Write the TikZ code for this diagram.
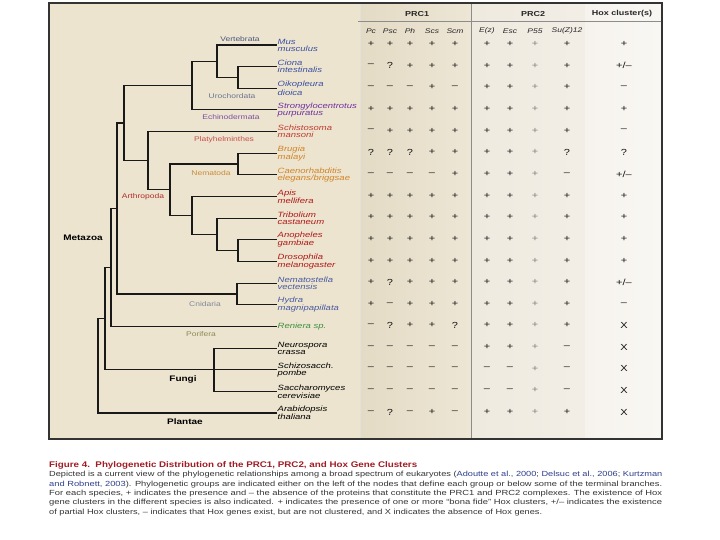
\documentclass[tikz,border=0pt]{standalone}
\usepackage{fontspec}
\setmainfont{Liberation Sans}[FakeStretch=1.25]
\usepackage{graphicx}
\definecolor{panelbg}{HTML}{ECE4CF}
\definecolor{prcA}{HTML}{E4DBC5}
\definecolor{prcB}{HTML}{EDE6D5}
\definecolor{prcC}{HTML}{EFEADF}
\definecolor{prcD}{HTML}{F2EEE6}
\definecolor{hoxA}{HTML}{F6F3EE}
\definecolor{hoxB}{HTML}{F9F7F3}
\definecolor{spblue}{HTML}{3C4FA0}
\definecolor{sppurple}{HTML}{7030A0}
\definecolor{spredb}{HTML}{C03A30}
\definecolor{sporange}{HTML}{D08428}
\definecolor{spred}{HTML}{B01818}
\definecolor{spslate}{HTML}{4A5AA0}
\definecolor{spgreen}{HTML}{3F8F3F}
\definecolor{gVert}{HTML}{4D5680}
\definecolor{gUro}{HTML}{6C7490}
\definecolor{gEch}{HTML}{7A4EA0}
\definecolor{gPla}{HTML}{C8504A}
\definecolor{gNem}{HTML}{C98A3A}
\definecolor{gArt}{HTML}{B02A2A}
\definecolor{gCni}{HTML}{808898}
\definecolor{gPor}{HTML}{8A8A55}
\definecolor{titlered}{HTML}{A01C24}
\definecolor{capgray}{HTML}{333333}
\definecolor{citeblue}{HTML}{2E3E8C}
\newcommand\tabrow[3]{%
  \foreach \v [count=\colidx] in {#3} {%
    \pgfmathsetmacro\xx{{371,390,410,432,455,487,510,535,567,624}[\colidx-1]}%
    \ifnum\colidx=8 \def\vc{black!50}\else\def\vc{black!92}\fi
    \node[val, text=\vc] (t#1c\colidx) at (\xx,#2) {\v};
  }}
\begin{document}
\begin{tikzpicture}[x=1pt,y=-1pt,
  branch/.style={line width=1.2pt, black!90},
  spname/.style={anchor=west, align=left, inner sep=0.5pt, font=\fontsize{7.6}{7}\selectfont\itshape},
  grp/.style={inner sep=0pt, font=\fontsize{6.8}{7}\selectfont},
  big/.style={inner sep=0pt, font=\fontsize{8}{8}\selectfont\bfseries},
  hd/.style={inner sep=0pt, font=\fontsize{7.2}{7}\selectfont\bfseries, text=black!85},
  subhd/.style={inner sep=0pt, font=\fontsize{6.8}{7}\selectfont\itshape, text=black!85},
  val/.style={inner sep=0pt, font=\fontsize{8.8}{9}\selectfont},
  captxt/.style={anchor=base west, inner sep=0pt, text=capgray, font=\fontsize{7.4}{9}\selectfont},
]
\useasboundingbox (0,0) rectangle (720,540);
\fill[white] (0,0) rectangle (720,540);
% panel
\fill[panelbg] (49,3) rectangle (662,439);
\shade[left color=prcA, right color=prcB] (360,3) rectangle (471,439);
\shade[left color=prcC, right color=prcD] (471,3) rectangle (585,439);
\shade[left color=hoxA, right color=hoxB] (585,3) rectangle (662,439);
\draw[black!12, line width=0.6pt] (360,3) -- (360,439);
\draw[black!45, line width=0.8pt] (471,3) -- (471,439);
\draw[black!45, line width=0.6pt] (358,21) -- (662,21);
\draw[black!80, line width=1.3pt] (49,3) rectangle (662,439);

% headers
\node[hd] (hPRC1) at (417,14) {PRC1};
\node[hd] (hPRC2) at (533,14) {PRC2};
\node[hd] (hHox) at (622,14) {Hox cluster(s)};
\node[subhd] (cPc) at (371,31) {Pc};
\node[subhd] (cPsc) at (390,31) {Psc};
\node[subhd] (cPh) at (410,31) {Ph};
\node[subhd] (cScs) at (432,31) {Scs};
\node[subhd] (cScm) at (455,31) {Scm};
\node[subhd] (cEz) at (487,31) {E(z)};
\node[subhd] (cEsc) at (510,31) {Esc};
\node[subhd] (cP55) at (535,31) {P55};
\node[subhd] (cSuz) at (567,31) {Su(Z)12};

% species
\node[spname, text=spblue] (s1) at (277,45) {Mus\\musculus};
\node[spname, text=spblue] (s2) at (277,66.6) {Ciona\\intestinalis};
\node[spname, text=spblue] (s3) at (277,88.3) {Oikopleura\\dioica};
\node[spname, text=sppurple] (s4) at (277,109.9) {Strongylocentrotus\\purpuratus};
\node[spname, text=spredb] (s5) at (277,131.6) {Schistosoma\\mansoni};
\node[spname, text=sporange] (s6) at (277,153.2) {Brugia\\malayi};
\node[spname, text=sporange] (s7) at (277,174.9) {Caenorhabditis\\elegans/briggsae};
\node[spname, text=spred] (s8) at (277,196.5) {Apis\\mellifera};
\node[spname, text=spred] (s9) at (277,218.2) {Tribolium\\castaneum};
\node[spname, text=spred] (s10) at (277,239.8) {Anopheles\\gambiae};
\node[spname, text=spred] (s11) at (277,261.5) {Drosophila\\melanogaster};
\node[spname, text=spslate] (s12) at (277,283.1) {Nematostella\\vectensis};
\node[spname, text=spslate] (s13) at (277,304.8) {Hydra\\magnipapillata};
\node[spname, text=spgreen] (s14) at (277,326.4) {Reniera sp.};
\node[spname, text=black] (s15) at (277,348.1) {Neurospora\\crassa};
\node[spname, text=black] (s16) at (277,369.7) {Schizosacch.\\pombe};
\node[spname, text=black] (s17) at (277,391.4) {Saccharomyces\\cerevisiae};
\node[spname, text=black] (s18) at (277,413) {Arabidopsis\\thaliana};

% internal nodes
\coordinate (nUro) at (238,77.45);
\coordinate (nVert) at (217,61.2);
\coordinate (nDeut) at (192,85.55);
\coordinate (nNem) at (238,164.05);
\coordinate (nA3) at (238,250.65);
\coordinate (nA2) at (217,234.4);
\coordinate (nArth) at (192,215.45);
\coordinate (nEcd) at (170,189.75);
\coordinate (nProt) at (148,160.7);
\coordinate (nBil) at (124,123.1);
\coordinate (nCnid) at (237,293.95);
\coordinate (nX) at (117,208.5);
\coordinate (nEum) at (111,267.45);
\coordinate (nFun) at (214,369.7);
\coordinate (nOpi) at (105,318.6);
\coordinate (nRoot) at (98,365.8);

% branches
\draw[branch] (nRoot) |- (nOpi);
\draw[branch] (nRoot) |- (s18.west);
\draw[branch] (nOpi) |- (nEum);
\draw[branch] (nOpi) |- (s16.west);
\draw[branch] (nFun) |- (s15.west);
\draw[branch] (nFun) |- (s17.west);
\draw[branch] (nEum) |- (nX);
\draw[branch] (nEum) |- (s14.west);
\draw[branch] (nX) |- (nBil);
\draw[branch] (nX) |- (nCnid);
\draw[branch] (nCnid) |- (s12.west);
\draw[branch] (nCnid) |- (s13.west);
\draw[branch] (nBil) |- (nDeut);
\draw[branch] (nBil) |- (nProt);
\draw[branch] (nDeut) |- (nVert);
\draw[branch] (nDeut) |- (s4.west);
\draw[branch] (nVert) |- (s1.west);
\draw[branch] (nVert) |- (nUro);
\draw[branch] (nUro) |- (s2.west);
\draw[branch] (nUro) |- (s3.west);
\draw[branch] (nProt) |- (s5.west);
\draw[branch] (nProt) |- (nEcd);
\draw[branch] (nEcd) |- (nNem);
\draw[branch] (nEcd) |- (nArth);
\draw[branch] (nNem) |- (s6.west);
\draw[branch] (nNem) |- (s7.west);
\draw[branch] (nArth) |- (s8.west);
\draw[branch] (nArth) |- (nA2);
\draw[branch] (nA2) |- (s9.west);
\draw[branch] (nA2) |- (nA3);
\draw[branch] (nA3) |- (s10.west);
\draw[branch] (nA3) |- (s11.west);

% group labels
\node[grp, text=gVert] (gVertebrata) at (240,39) {Vertebrata};
\node[grp, text=gUro] (gUrochordata) at (232,96) {Urochordata};
\node[grp, text=gEch] (gEchino) at (231,117) {Echinodermata};
\node[grp, text=gPla] (gPlaty) at (224,140) {Platyhelminthes};
\node[grp, text=gNem] (gNema) at (211,173) {Nematoda};
\node[grp, text=gArt] (gArthro) at (143,197) {Arthropoda};
\node[grp, text=gCni] (gCnidaria) at (205,304) {Cnidaria};
\node[grp, text=gPor] (gPorifera) at (201,334) {Porifera};
\node[big] (gMetazoa) at (83,238) {Metazoa};
\node[big] (gFungi) at (183,379) {Fungi};
\node[big] (gPlantae) at (185,422) {Plantae};

% table
\tabrow{1}{44}{+,+,+,+,+,+,+,+,+,+}
\tabrow{2}{65.6}{–,?,+,+,+,+,+,+,+,+/–}
\tabrow{3}{87.3}{–,–,–,+,–,+,+,+,+,–}
\tabrow{4}{108.9}{+,+,+,+,+,+,+,+,+,+}
\tabrow{5}{130.6}{–,+,+,+,+,+,+,+,+,–}
\tabrow{6}{152.2}{?,?,?,+,+,+,+,+,?,?}
\tabrow{7}{173.9}{–,–,–,–,+,+,+,+,–,+/–}
\tabrow{8}{195.5}{+,+,+,+,+,+,+,+,+,+}
\tabrow{9}{217.2}{+,+,+,+,+,+,+,+,+,+}
\tabrow{10}{238.8}{+,+,+,+,+,+,+,+,+,+}
\tabrow{11}{260.5}{+,+,+,+,+,+,+,+,+,+}
\tabrow{12}{282.1}{+,?,+,+,+,+,+,+,+,+/–}
\tabrow{13}{303.8}{+,–,+,+,+,+,+,+,+,–}
\tabrow{14}{325.4}{–,?,+,+,?,+,+,+,+,X}
\tabrow{15}{347.1}{–,–,–,–,–,+,+,+,–,X}
\tabrow{16}{368.7}{–,–,–,–,–,–,–,+,–,X}
\tabrow{17}{390.4}{–,–,–,–,–,–,–,+,–,X}
\tabrow{18}{412}{–,?,–,+,–,+,+,+,+,X}

% caption
\node[captxt, text=titlered] (cap0) at (49,467) {\resizebox{368pt}{\height}{\fontsize{8.2}{9}\selectfont\bfseries Figure 4.\ \ Phylogenetic Distribution of the PRC1, PRC2, and Hox Gene Clusters}};
\node[captxt] (cap1) at (49,476.5) {\resizebox{613pt}{\height}{Depicted is a current view of the phylogenetic relationships among a broad spectrum of eukaryotes ({\color{citeblue}Adoutte et al., 2000}; {\color{citeblue}Delsuc et al., 2006}; {\color{citeblue}Kurtzman}}};
\node[captxt] (cap2) at (49,486) {\resizebox{613pt}{\height}{{\color{citeblue}and Robnett, 2003}). Phylogenetic groups are indicated either on the left of the nodes that define each group or below some of the terminal branches.}};
\node[captxt] (cap3) at (49,495.5) {\resizebox{613pt}{\height}{For each species, + indicates the presence and – the absence of the proteins that constitute the PRC1 and PRC2 complexes. The existence of Hox}};
\node[captxt] (cap4) at (49,504.8) {\resizebox{613pt}{\height}{gene clusters in the different species is also indicated. + indicates the presence of one or more “bona fide” Hox clusters, +/– indicates the existence}};
\node[captxt] (cap5) at (49,514) {\resizebox{493pt}{\height}{of partial Hox clusters, – indicates that Hox genes exist, but are not clustered, and X indicates the absence of Hox genes.}};
\end{tikzpicture}
\end{document}
